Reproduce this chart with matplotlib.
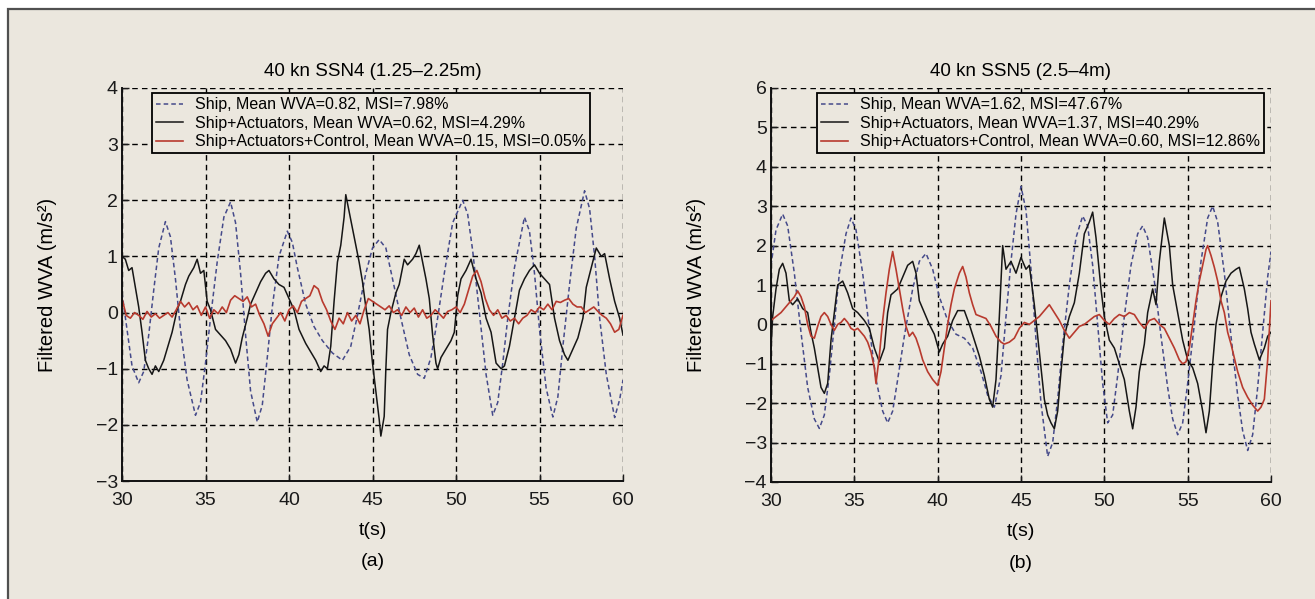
import matplotlib.pyplot as plt
from matplotlib.patches import Rectangle
import numpy

plt.rcParams['font.family'] = ['Liberation Sans', 'DejaVu Sans']

# (a) 40 kn SSN4
ship_a_t = [30.0, 30.3, 30.6, 31.0, 31.3, 31.6, 31.9, 32.2, 32.6, 32.9, 33.2, 33.5, 33.9, 34.4,
            34.7, 35.0, 35.3, 35.7, 36.1, 36.5, 36.8, 37.1, 37.4, 37.7, 38.1, 38.4, 38.7, 39.0,
            39.4, 39.9, 40.2, 40.5, 41.0, 41.5, 42.0, 42.6, 43.2, 43.7, 44.1, 44.6, 45.0, 45.4,
            45.8, 46.2, 46.7, 47.2, 47.7, 48.1, 48.5, 48.9, 49.3, 49.8, 50.4, 50.7, 51.0, 51.4,
            51.8, 52.2, 52.5, 52.8, 53.1, 53.5, 54.1, 54.4, 54.7, 55.0, 55.4, 55.8, 56.1, 56.4,
            56.8, 57.2, 57.7, 58.0, 58.3, 58.6, 59.0, 59.5, 59.8, 60.0]
ship_a = [0.35, -0.3, -0.95, -1.25, -1.05, -0.4, 0.4, 1.15, 1.62, 1.35, 0.6, -0.3, -1.2, -1.83,
          -1.6, -0.9, -0.1, 0.9, 1.7, 1.97, 1.6, 0.7, -0.4, -1.4, -1.95, -1.65, -0.8, 0.1,
          1.0, 1.45, 1.25, 0.8, 0.15, -0.25, -0.5, -0.72, -0.85, -0.6, -0.05, 0.7, 1.15, 1.3,
          1.15, 0.6, -0.1, -0.75, -1.1, -1.17, -0.8, -0.1, 0.7, 1.6, 2.0, 1.75, 1.1, 0.0,
          -1.1, -1.83, -1.6, -0.9, -0.1, 0.8, 1.7, 1.45, 0.7, -0.3, -1.35, -1.86, -1.5, -0.6,
          0.5, 1.5, 2.17, 1.85, 1.0, -0.1, -1.1, -1.87, -1.55, -1.2]

act_a_t = [30.0, 30.2, 30.4, 30.6, 30.8, 31.0, 31.2, 31.4, 31.6, 31.8, 32.0, 32.2, 32.5, 32.8,
           33.0, 33.3, 33.5, 33.8, 34.0, 34.3, 34.5, 34.7, 34.9, 35.1, 35.3, 35.6, 35.9, 36.2,
           36.5, 36.8, 37.0, 37.2, 37.5, 37.7, 38.0, 38.3, 38.6, 38.8, 39.1, 39.4, 39.7, 40.0,
           40.3, 40.6, 41.0, 41.3, 41.6, 41.9, 42.1, 42.3, 42.5, 42.7, 42.9, 43.1, 43.3, 43.4,
           43.6, 43.8, 44.0, 44.2, 44.4, 44.6, 44.8, 45.0, 45.2, 45.4, 45.5, 45.7, 45.8, 45.9,
           46.1, 46.4, 46.6, 46.9, 47.1, 47.4, 47.6, 47.8, 48.0, 48.2, 48.4, 48.6, 48.8, 48.9,
           49.1, 49.4, 49.7, 49.9, 50.1, 50.3, 50.6, 50.9, 51.2, 51.5, 51.8, 52.1, 52.4, 52.7,
           52.9, 53.2, 53.5, 53.8, 54.1, 54.4, 54.7, 55.0, 55.3, 55.6, 55.9, 56.2, 56.5, 56.7,
           57.0, 57.3, 57.6, 57.8, 58.1, 58.4, 58.7, 58.9, 59.2, 59.5, 59.8, 60.0]
act_a = [1.0, 0.95, 0.75, 0.8, 0.45, 0.1, -0.35, -0.85, -1.0, -1.1, -0.95, -1.05, -0.85, -0.55,
         -0.35, 0.05, 0.2, 0.5, 0.65, 0.8, 0.95, 0.7, 0.75, 0.2, 0.05, -0.3, -0.4, -0.5,
         -0.65, -0.9, -0.75, -0.45, -0.1, 0.15, 0.35, 0.55, 0.7, 0.75, 0.6, 0.5, 0.45, 0.25,
         0.05, -0.3, -0.55, -0.7, -0.85, -1.05, -0.95, -1.0, -0.6, 0.2, 0.9, 1.2, 1.7, 2.1,
         1.8, 1.5, 1.2, 0.9, 0.55, 0.1, -0.3, -0.9, -1.4, -1.9, -2.2, -1.85, -1.0, -0.3,
         0.0, 0.35, 0.5, 0.95, 0.85, 0.95, 1.05, 1.2, 0.9, 0.6, 0.25, -0.4, -0.9, -1.0,
         -0.8, -0.65, -0.5, -0.35, 0.3, 0.6, 0.75, 0.95, 0.6, 0.35, -0.1, -0.35, -0.9, -1.0,
         -0.95, -0.6, -0.1, 0.4, 0.6, 0.75, 0.85, 0.7, 0.6, 0.5, -0.1, -0.5, -0.75, -0.85,
         -0.65, -0.45, -0.1, 0.45, 0.8, 1.15, 1.0, 1.05, 0.6, 0.2, -0.1, -0.4]

ctrl_a_t = numpy.arange(30, 60.001, 0.25)
ctrl_a = [0.25, -0.05, -0.1, 0.0, -0.05, -0.12, 0.02, -0.08, -0.02, -0.1, -0.05, 0.0, -0.08,
          0.05, 0.2, 0.1, 0.18, 0.05, 0.12, -0.05, 0.1, -0.1, 0.05, -0.02, 0.1, 0.0, 0.22,
          0.3, 0.25, 0.2, 0.28, 0.1, 0.15, -0.05, -0.2, -0.42, -0.2, -0.1, 0.0, -0.15, 0.05,
          0.12, 0.0, 0.2, 0.25, 0.3, 0.48, 0.42, 0.2, 0.05, -0.15, -0.3, -0.1, -0.2, 0.0,
          -0.15, -0.05, -0.2, 0.05, 0.25, 0.2, 0.15, 0.1, 0.05, 0.12, 0.0, 0.05, -0.05, 0.1,
          0.0, 0.08, -0.08, 0.05, -0.1, -0.05, 0.05, -0.02, -0.1, 0.02, 0.05, 0.1, 0.0, 0.15,
          0.4, 0.65, 0.75, 0.55, 0.25, 0.05, -0.05, 0.05, -0.1, -0.05, -0.15, -0.1, -0.2, -0.1,
          -0.05, 0.05, 0.0, 0.1, 0.05, 0.15, 0.05, 0.2, 0.18, 0.22, 0.25, 0.15, 0.1, 0.1,
          0.0, 0.05, 0.1, 0.02, -0.05, -0.1, -0.2, -0.35, -0.3, -0.05]

# (b) 40 kn SSN5
ship_b_t = [30.0, 30.3, 30.7, 31.0, 31.4, 31.8, 32.2, 32.6, 32.9, 33.2, 33.5, 33.8, 34.1, 34.5,
            34.8, 35.1, 35.5, 35.9, 36.3, 36.7, 37.0, 37.3, 37.6, 38.0, 38.5, 38.9, 39.3, 39.7,
            40.1, 40.6, 41.1, 41.6, 42.1, 42.6, 43.0, 43.4, 43.8, 44.1, 44.4, 44.7, 45.0, 45.3,
            45.6, 45.9, 46.2, 46.6, 46.9, 47.2, 47.5, 47.9, 48.3, 48.7, 49.0, 49.3, 49.6, 49.9,
            50.2, 50.5, 50.8, 51.2, 51.6, 52.0, 52.3, 52.6, 53.0, 53.4, 53.8, 54.1, 54.4, 54.7,
            55.0, 55.4, 55.8, 56.2, 56.5, 56.8, 57.2, 57.6, 58.0, 58.3, 58.6, 58.9, 59.2, 59.5,
            59.8, 60.0]
ship_b = [1.5, 2.4, 2.8, 2.5, 1.3, -0.2, -1.6, -2.4, -2.64, -2.3, -1.3, 0.0, 1.3, 2.3,
          2.7, 2.4, 1.3, -0.1, -1.4, -2.2, -2.5, -2.2, -1.4, -0.3, 0.9, 1.6, 1.8, 1.4,
          0.7, 0.1, -0.25, -0.35, -0.6, -1.2, -1.8, -2.1, -1.3, 0.2, 1.6, 2.8, 3.5, 2.9,
          1.4, -0.4, -2.0, -3.35, -3.0, -1.9, -0.5, 1.0, 2.2, 2.75, 2.5, 1.5, 0.0, -1.5,
          -2.5, -2.3, -1.3, 0.2, 1.5, 2.3, 2.5, 2.2, 1.1, -0.3, -1.6, -2.4, -2.8, -2.5,
          -1.5, 0.0, 1.6, 2.7, 3.0, 2.6, 1.3, -0.3, -1.8, -2.7, -3.2, -2.8, -1.6, -0.2,
          1.2, 1.85]

act_b_t = [30.0, 30.1, 30.3, 30.5, 30.7, 30.9, 31.1, 31.3, 31.6, 31.9, 32.2, 32.4, 32.6, 32.8,
           33.0, 33.2, 33.4, 33.6, 33.8, 34.0, 34.3, 34.6, 34.9, 35.2, 35.6, 35.9, 36.2, 36.5,
           36.8, 37.0, 37.2, 37.6, 37.9, 38.2, 38.5, 38.7, 38.9, 39.2, 39.5, 39.8, 40.1, 40.3,
           40.6, 40.9, 41.2, 41.6, 41.9, 42.2, 42.5, 42.8, 43.1, 43.3, 43.5, 43.7, 43.9, 44.1,
           44.4, 44.7, 45.0, 45.3, 45.5, 45.8, 46.0, 46.2, 46.4, 46.6, 46.8, 47.0, 47.2, 47.4,
           47.6, 47.9, 48.2, 48.5, 48.8, 49.1, 49.3, 49.5, 49.8, 50.0, 50.3, 50.6, 50.9, 51.2,
           51.5, 51.7, 51.9, 52.1, 52.4, 52.6, 52.9, 53.1, 53.3, 53.6, 53.9, 54.1, 54.4, 54.7,
           55.0, 55.3, 55.6, 55.9, 56.1, 56.3, 56.5, 56.7, 57.0, 57.3, 57.6, 57.9, 58.1, 58.4,
           58.6, 58.8, 59.0, 59.3, 59.6, 59.8, 60.0]
act_b = [-0.6, 0.2, 0.9, 1.4, 1.55, 1.3, 0.6, 0.5, 0.65, 0.4, 0.3, -0.2, -0.6, -1.1,
         -1.6, -1.75, -1.5, -0.4, 0.3, 1.0, 1.1, 0.8, 0.4, 0.3, 0.1, -0.1, -0.6, -0.95,
         -0.6, 0.3, 0.75, 0.9, 1.2, 1.5, 1.6, 1.3, 0.6, 0.3, 0.0, -0.25, -0.7, -0.5,
         -0.3, 0.1, 0.35, 0.35, 0.0, -0.4, -0.8, -1.3, -1.9, -2.1, -1.4, 0.2, 2.0, 1.4,
         1.6, 1.3, 1.7, 1.4, 1.5, 0.5, -0.3, -1.1, -1.9, -2.3, -2.5, -2.65, -2.2, -1.2,
         -0.3, 0.2, 0.55, 1.3, 2.3, 2.6, 2.85, 2.2, 0.9, 0.2, -0.4, -0.6, -1.0, -1.4,
         -2.2, -2.65, -2.1, -1.2, -0.5, 0.3, 0.9, 0.5, 1.6, 2.7, 2.0, 1.0, 0.3, -0.4,
         -0.9, -1.1, -1.5, -2.2, -2.75, -2.2, -1.0, 0.0, 0.7, 1.1, 1.3, 1.4, 1.45, 0.9,
         0.4, -0.2, -0.5, -0.9, -0.6, -0.3, -0.2]

ctrl_b_t = [30.0, 30.3, 30.6, 30.9, 31.2, 31.4, 31.6, 31.8, 32.0, 32.2, 32.4, 32.6, 32.8, 33.0,
            33.2, 33.4, 33.6, 33.8, 34.0, 34.2, 34.4, 34.6, 34.8, 35.0, 35.2, 35.4, 35.6, 35.8,
            36.0, 36.2, 36.3, 36.5, 36.7, 36.9, 37.1, 37.3, 37.5, 37.7, 37.9, 38.1, 38.3, 38.5,
            38.7, 38.9, 39.1, 39.4, 39.7, 40.0, 40.2, 40.4, 40.6, 40.8, 41.0, 41.3, 41.5, 41.7,
            41.9, 42.1, 42.3, 42.6, 42.9, 43.2, 43.5, 43.8, 44.0, 44.3, 44.6, 44.9, 45.2, 45.5,
            45.8, 46.1, 46.4, 46.7, 47.0, 47.3, 47.6, 47.9, 48.2, 48.5, 48.8, 49.1, 49.4, 49.7,
            50.0, 50.3, 50.6, 50.9, 51.2, 51.5, 51.8, 52.1, 52.4, 52.7, 53.0, 53.3, 53.6, 53.9,
            54.2, 54.5, 54.7, 54.9, 55.1, 55.3, 55.5, 55.7, 55.9, 56.1, 56.2, 56.4, 56.6, 56.8,
            57.0, 57.2, 57.4, 57.6, 57.8, 58.0, 58.3, 58.6, 58.9, 59.2, 59.4, 59.6, 59.8, 60.0]
ctrl_b = [0.1, 0.2, 0.3, 0.45, 0.6, 0.7, 0.85, 0.7, 0.45, 0.0, -0.3, -0.35, -0.05, 0.2,
          0.3, 0.2, 0.0, -0.15, 0.0, 0.05, 0.15, 0.05, -0.1, -0.15, -0.1, -0.2, -0.3, -0.45,
          -0.7, -1.1, -1.5, -0.8, 0.1, 0.8, 1.4, 1.85, 1.4, 0.9, 0.4, -0.05, -0.3, -0.2,
          -0.35, -0.6, -0.9, -1.2, -1.4, -1.55, -1.2, -0.6, 0.0, 0.5, 0.9, 1.3, 1.47, 1.2,
          0.8, 0.5, 0.25, 0.2, 0.15, -0.05, -0.3, -0.45, -0.5, -0.45, -0.35, -0.1, 0.05, 0.0,
          0.1, 0.2, 0.35, 0.5, 0.3, 0.1, -0.15, -0.35, -0.2, -0.05, 0.0, 0.1, 0.2, 0.25,
          0.1, 0.0, 0.15, 0.25, 0.2, 0.3, 0.25, 0.05, -0.1, 0.1, 0.15, 0.0, -0.1, -0.35,
          -0.6, -0.9, -1.0, -0.95, -0.6, 0.0, 0.6, 1.1, 1.5, 1.9, 2.0, 1.75, 1.45, 1.1,
          0.6, 0.3, -0.2, -0.5, -0.85, -1.2, -1.6, -1.85, -2.05, -2.2, -2.1, -1.9, -0.9, 0.6]

labels_a = ['Ship, Mean WVA=0.82, MSI=7.98%',
            'Ship+Actuators, Mean WVA=0.62, MSI=4.29%',
            'Ship+Actuators+Control, Mean WVA=0.15, MSI=0.05%']
labels_b = ['Ship, Mean WVA=1.62, MSI=47.67%',
            'Ship+Actuators, Mean WVA=1.37, MSI=40.29%',
            'Ship+Actuators+Control, Mean WVA=0.60, MSI=12.86%']

bg = '#ebe7de'
ship_color = '#454a8a'
act_color = '#161616'
ctrl_color = '#b83a2e'

fig = plt.figure(figsize=(13.15, 5.99), dpi=100)
fig.patch.set_facecolor('white')
fig.patches.append(Rectangle((8 / 1315, -0.05), 1.1, 1.05 - 9 / 599, transform=fig.transFigure,
                             facecolor=bg, edgecolor='#505050', lw=1.6, zorder=-10))

ax1 = fig.add_axes([122 / 1315, 1 - 481 / 599, 501 / 1315, 393 / 599])
ax2 = fig.add_axes([771 / 1315, 1 - 482 / 599, 500 / 1315, 394 / 599])


def draw_panel(ax, series, labels, ylim, title, tag, legend_x):
    (st, s), (at, a), (ct, c) = series
    l1, = ax.plot(st, s, color=ship_color, lw=1.1, linestyle=(0, (3, 2)))
    l2, = ax.plot(at, a, color=act_color, lw=1.1)
    l3, = ax.plot(ct, c, color=ctrl_color, lw=1.2)

    ax.set_xlim(30, 60)
    ax.set_ylim(*ylim)
    ax.set_xticks(range(30, 61, 5))
    ax.set_yticks(range(ylim[0], ylim[1] + 1))
    ax.set_facecolor('none')
    for side in ['top', 'right']:
        ax.spines[side].set_visible(False)
    for side in ['left', 'bottom']:
        ax.spines[side].set_linewidth(1.4)
        ax.spines[side].set_color('#111111')
    ax.grid(True, color='black', linestyle=(0, (4, 3)), lw=1.0)
    ax.tick_params(direction='in', length=5, width=1, labelsize=14, colors='#1a1a1a')
    ax.tick_params(axis='x', pad=8)
    ax.tick_params(axis='y', pad=3)

    ax.set_ylabel('Filtered WVA (m/s²)', fontsize=14.5)
    ax.yaxis.set_label_coords(-0.13, 0.5)
    ax.text(0.5, 1.041, title, transform=ax.transAxes, ha='center', va='center', fontsize=13.5)
    ax.text(0.5, -0.125, 't(s)', transform=ax.transAxes, ha='center', va='center', fontsize=14)
    ax.text(0.5, -0.206, tag, transform=ax.transAxes, ha='center', va='center', fontsize=14)

    leg = ax.legend([l1, l2, l3], labels, loc='upper left', bbox_to_anchor=(legend_x, 0.987),
                    borderaxespad=0, fontsize=11.5, handlelength=1.7, handletextpad=0.75,
                    labelspacing=0.22, borderpad=0.25, fancybox=False, framealpha=1,
                    facecolor=bg, edgecolor='black')
    leg.get_frame().set_linewidth(1.3)


draw_panel(ax1, [(ship_a_t, ship_a), (act_a_t, act_a), (ctrl_a_t, ctrl_a)], labels_a,
           (-3, 4), '40 kn SSN4 (1.25–2.25m)', '(a)', 0.06)
draw_panel(ax2, [(ship_b_t, ship_b), (act_b_t, act_b), (ctrl_b_t, ctrl_b)], labels_b,
           (-4, 6), '40 kn SSN5 (2.5–4m)', '(b)', 0.092)

plt.savefig('out.png', dpi=100, facecolor=fig.get_facecolor())
